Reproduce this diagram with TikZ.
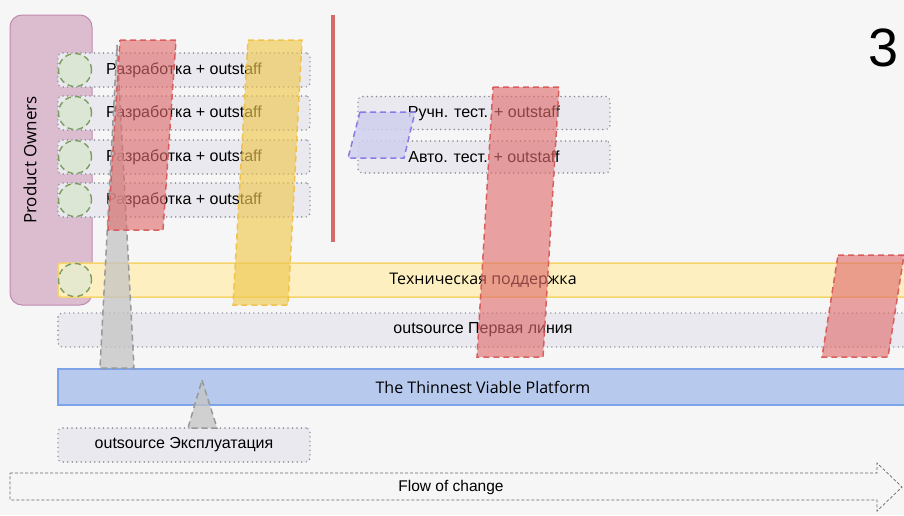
\documentclass[tikz,border=0pt]{standalone}
\usepackage{fontspec}
\setmainfont{Liberation Sans}
\newfontfamily\opensans{Open Sans}
\definecolor{bgc}{HTML}{F6F6F6}
\definecolor{pofill}{HTML}{DCBDD0}
\definecolor{podraw}{HTML}{C08AAE}
\definecolor{rowfill}{HTML}{E9E9EF}
\definecolor{rowdraw}{HTML}{8C8C94}
\definecolor{circfill}{HTML}{DCE6D4}
\definecolor{circdraw}{HTML}{7C9C62}
\definecolor{redfill}{HTML}{E06C6C}
\definecolor{reddraw}{HTML}{D85454}
\definecolor{yelfill}{HTML}{F0C850}
\definecolor{yeldraw}{HTML}{F0C040}
\definecolor{bandfill}{HTML}{FDEFBF}
\definecolor{banddraw}{HTML}{F5D56A}
\definecolor{bluefill}{HTML}{B7CAEE}
\definecolor{bluedraw}{HTML}{7DA3E8}
\definecolor{bpfill}{HTML}{D0D0EE}
\definecolor{bpdraw}{HTML}{8A7AE6}
\definecolor{grayfill}{HTML}{C4C4C4}
\definecolor{graydraw}{HTML}{999999}
\definecolor{redline}{HTML}{D46A6A}
\tikzset{
  dotline/.style={draw=rowdraw, line width=1.6pt, dash pattern=on 0pt off 4.5pt, line cap=round},
  rowbox/.style={rectangle, rounded corners=4pt, fill=rowfill, dotline, inner sep=0pt, font=\fontsize{16}{18}\selectfont},
  circ/.style={circle, minimum size=33pt, inner sep=0pt, fill=circfill, draw=circdraw, line width=1.4pt, dash pattern=on 6pt off 4pt},
  redpara/.style={fill=redfill, fill opacity=0.62, draw=reddraw, draw opacity=0.9, line width=1.5pt, dash pattern=on 6pt off 4pt},
  yelpara/.style={fill=yelfill, fill opacity=0.65, draw=yeldraw, draw opacity=0.9, line width=1.5pt, dash pattern=on 6pt off 4pt},
  graytri/.style={fill=grayfill, fill opacity=0.75, draw=graydraw, line width=1.5pt, dash pattern=on 6pt off 4pt},
  lbl/.style={inner sep=0pt, font=\fontsize{16}{18}\selectfont},
}
\begin{document}
\begin{tikzpicture}[x=1pt,y=-1pt]
\useasboundingbox (0,0) rectangle (904,515);
\fill[bgc] (0,0) rectangle (904,515);
% Product owners
\node[rectangle, rounded corners=12pt, fill=pofill, draw=podraw, line width=1pt, minimum width=82pt, minimum height=290pt, inner sep=0pt] (po) at (51,160) {};
\node[lbl, rotate=90, font=\opensans\fontsize{17}{19}\selectfont] (potext) at (30,160) {Product Owners};
% dev rows
\foreach \y [count=\i] in {70,113,157,200}{
  \node[rowbox, minimum width=252pt, minimum height=34pt] (dev\i) at (184,\y) {Разработка + outstaff};
  \node[circ] (c\i) at (75,\y) {};
}
% test rows
\node[rowbox, minimum width=252pt, minimum height=33pt] (t1) at (484,113) {Ручн. тест. + outstaff};
\node[rowbox, minimum width=252pt, minimum height=32pt] (t2) at (484,157) {Авто. тест. + outstaff};
% support band
\path[fill=bandfill, draw=banddraw, line width=1.5pt, rounded corners=3pt] (58,263) rectangle (930,297);
\node[lbl, font=\opensans\fontsize{16}{18}\selectfont] (support) at (483,281) {Техническая поддержка};
\node[circ, fill=circfill!70!bandfill] (c5) at (75,280) {};
% first line
\path[fill=rowfill, dotline, rounded corners=4pt] (58,313) rectangle (930,347);
\node[lbl] (firstline) at (483,330) {outsource Первая линия};
% platform
\path[fill=bluefill, draw=bluedraw, line width=1.5pt] (58,369) rectangle (930,405);
\node[lbl, font=\opensans\fontsize{16}{18}\selectfont] (tvp) at (483,387) {The Thinnest Viable Platform};
% operations
\node[rowbox, minimum width=252pt, minimum height=34pt] (ops) at (184,445) {outsource Эксплуатация};
% gray triangles
\path[graytri] (117,45) -- (134,368) -- (100,368) -- cycle;
\path[graytri] (202,380) -- (217,428) -- (188,428) -- cycle;
% red & yellow parallelograms
\path[redpara] (120,40) -- (176,40) -- (163,230) -- (108,230) -- cycle;
\path[yelpara] (248,40) -- (302,40) -- (288,305) -- (233,305) -- cycle;
\path[redpara] (493,87) -- (559,87) -- (543,357) -- (477,357) -- cycle;
\path[redpara] (838,255) -- (904,255) -- (888,357) -- (822,357) -- cycle;
% blue parallelogram
\path[fill=bpfill, fill opacity=0.85, draw=bpdraw, line width=1.5pt, dash pattern=on 6pt off 4pt] (360,112) -- (415,112) -- (404,158) -- (348,158) -- cycle;
% red vertical line
\draw[redline, line width=4.5pt] (333,15) -- (333,242);
% flow of change
\draw[draw=black!60, line width=0.7pt, dash pattern=on 3pt off 2pt] (10,473) -- (877,473) -- (877,463) -- (902,487) -- (877,511) -- (877,500) -- (10,500) -- cycle;
\node[lbl, font=\fontsize{15.5}{17}\selectfont] (flow) at (451,487) {Flow of change};
% page number
\node[inner sep=0pt, font=\fontsize{54}{58}\selectfont] (pnum) at (884,48) {3};
\end{tikzpicture}
\end{document}
